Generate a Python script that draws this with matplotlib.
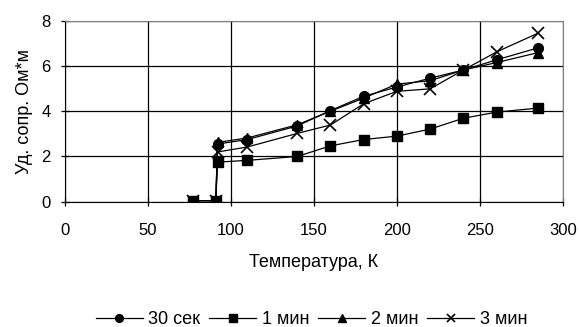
import matplotlib
matplotlib.use("Agg")
import matplotlib.pyplot as plt

plt.rcParams['font.family'] = ['Liberation Sans', 'DejaVu Sans']

# Temperature (K) and resistivity values
temp = [77, 91, 92, 110, 140, 160, 180, 200, 220, 240, 260, 285]
r_30s = [0.05, 0.05, 2.55, 2.75, 3.35, 4.03, 4.66, 5.07, 5.46, 5.82, 6.27, 6.8]
r_1m = [0.05, 0.05, 1.75, 1.83, 2.0, 2.47, 2.75, 2.9, 3.21, 3.69, 3.96, 4.14]
r_2m = [0.05, 0.05, 2.62, 2.82, 3.4, 4.0, 4.58, 5.2, 5.35, 5.82, 6.15, 6.59]
r_3m = [0.05, 0.05, 2.2, 2.42, 3.02, 3.39, 4.33, 4.88, 4.99, 5.82, 6.62, 7.45]

labels = ['30 сек', '1 мин', '2 мин', '3 мин']

fig = plt.figure(figsize=(5.79, 3.27), dpi=100)
ax = fig.add_axes([0.1117, 0.383, 0.8607, 0.5537])

ax.plot(temp, r_30s, color='black', lw=0.9, marker='o', ms=7, label=labels[0])
ax.plot(temp, r_1m, color='black', lw=0.9, marker='s', ms=7, label=labels[1])
ax.plot(temp, r_2m, color='black', lw=0.9, marker='^', ms=7, label=labels[2])
ax.plot(temp, r_3m, color='black', lw=0.9, marker='x', ms=8, mew=1.2, label=labels[3])

ax.set_xlim(0, 300)
ax.set_ylim(0, 8)
ax.set_xticks(range(0, 301, 50))
ax.set_yticks(range(0, 9, 2))
ax.grid(True, color='black', lw=0.9)
ax.tick_params(direction='inout', length=6, width=0.9, labelsize=12)
ax.tick_params(axis='x', pad=12)
ax.tick_params(axis='y', pad=7)
for side in ['top', 'right']:
    ax.spines[side].set_color('#808080')
for side in ['left', 'bottom']:
    ax.spines[side].set_color('black')

ax.set_xlabel('Температура, К', fontsize=13, labelpad=12)
ax.set_ylabel('Уд. сопр. Ом*м', fontsize=13, labelpad=6)

fig.legend(loc='center', bbox_to_anchor=(0.538, 0.022), ncol=4, frameon=False,
           fontsize=13, handlelength=2.6, handletextpad=0.3, columnspacing=0.5,
           markerscale=0.8)

fig.savefig('out.png', dpi=100)
